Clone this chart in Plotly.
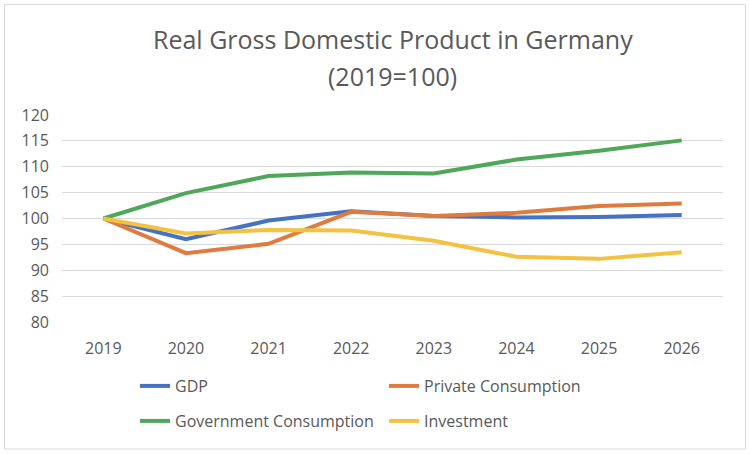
import plotly.graph_objects as go

years = ["2019", "2020", "2021", "2022", "2023", "2024", "2025", "2026"]
gdp = [100, 96.0, 99.6, 101.4, 100.5, 100.2, 100.3, 100.7]
private_cons = [100, 93.3, 95.1, 101.3, 100.5, 101.1, 102.4, 102.9]
gov_cons = [100, 104.9, 108.2, 108.9, 108.7, 111.4, 113.1, 115.1]
investment = [100, 97.1, 97.8, 97.7, 95.7, 92.6, 92.2, 93.5]

series = [
    ("GDP", gdp, "#4672C4", "legend"),
    ("Private Consumption", private_cons, "#E07B3F", "legend"),
    ("Government Consumption", gov_cons, "#4FA75A", "legend2"),
    ("Investment", investment, "#F4C243", "legend2"),
]

FONT = "Open Sans"
GREY = "#595959"

fig = go.Figure()
for name, vals, col, lg in series:
    fig.add_trace(go.Scatter(
        x=years, y=vals, name=name, mode="lines",
        line=dict(color=col, width=4), legend=lg,
    ))

H = 207.0
W = 661.0
def py(p):
    return (322 - p) / H
def px(p):
    return (p - 62) / W

leg_common = dict(
    orientation="h", xanchor="left", yanchor="middle",
    entrywidth=204, entrywidthmode="pixels",
    font=dict(size=16, color=GREY, family=FONT),
    bgcolor="rgba(0,0,0,0)",
)

fig.update_layout(
    width=750, height=454,
    paper_bgcolor="white", plot_bgcolor="white",
    margin=dict(l=62, r=27, t=115, b=132),
    font=dict(family=FONT, color=GREY, size=16),
    xaxis=dict(
        type="category", range=[-0.5, 7.5],
        showgrid=False, showline=False, zeroline=False,
        ticks="", tickfont=dict(size=16, color=GREY),
        ticklabelstandoff=15,
    ),
    yaxis=dict(
        range=[80, 120], dtick=5, tick0=80,
        showgrid=True, gridcolor="#d9d9d9", gridwidth=1,
        zeroline=False, showline=False, ticks="",
        tickfont=dict(size=16, color=GREY),
        ticklabelstandoff=12,
    ),
    legend=dict(x=px(135), y=py(386), **leg_common),
    legend2=dict(x=px(135), y=py(421), **leg_common),
    annotations=[
        dict(text="Real Gross Domestic Product in Germany", xref="paper", yref="paper",
             x=0.5, y=py(39), xanchor="center", yanchor="middle", showarrow=False,
             font=dict(family=FONT, size=25, color=GREY)),
        dict(text="(2019=100)", xref="paper", yref="paper",
             x=0.5, y=py(76), xanchor="center", yanchor="middle", showarrow=False,
             font=dict(family=FONT, size=25, color=GREY)),
    ],
    shapes=[dict(
        type="rect", xref="paper", yref="paper",
        x0=px(4.5), x1=px(745.5),
        y0=py(449), y1=py(4.5),
        line=dict(color="#d9d9d9", width=1), layer="below",
    )],
)

fig.write_html("out.html")
